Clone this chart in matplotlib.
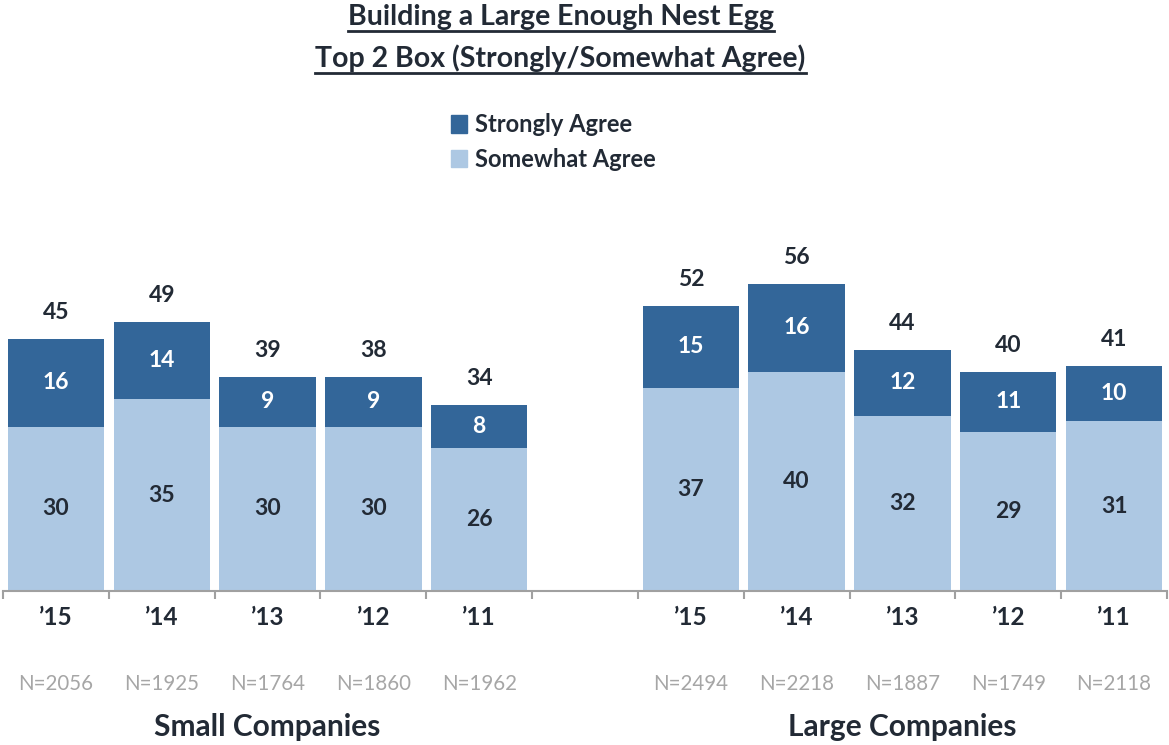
import numpy as np
import matplotlib.pyplot as plt
from matplotlib.patches import Patch
from matplotlib.lines import Line2D

plt.rcParams['font.family'] = ['Lato', 'DejaVu Sans']

# Data
years = ["\u201915", "\u201914", "\u201913", "\u201912", "\u201911"]
small_somewhat = [30, 35, 30, 30, 26]
small_strongly = [16, 14, 9, 9, 8]
small_total = [45, 49, 39, 38, 34]
small_n = ["N=2056", "N=1925", "N=1764", "N=1860", "N=1962"]
large_somewhat = [37, 40, 32, 29, 31]
large_strongly = [15, 16, 12, 11, 10]
large_total = [52, 56, 44, 40, 41]
large_n = ["N=2494", "N=2218", "N=1887", "N=1749", "N=2118"]
groups = ["Small Companies", "Large Companies"]

DARK = '#336699'
LIGHT = '#adc8e3'
TXT = '#222a35'
GRID = '#a0a0a0'

fig = plt.figure(figsize=(11.69, 7.45), dpi=100)
ax = fig.add_axes([3 / 1169, (745 - 591) / 745, 1164 / 1169, 329 / 745])

x_small = np.arange(5)
x_large = np.arange(6, 11)
xs = np.concatenate([x_small, x_large])
somewhat = np.array(small_somewhat + large_somewhat)
strongly = np.array(small_strongly + large_strongly)
totals = small_total + large_total
w = 0.91

b1 = ax.bar(xs, somewhat, width=w, color=LIGHT, edgecolor='none')
b2 = ax.bar(xs, strongly, width=w, bottom=somewhat, color=DARK, edgecolor='none')

for x, s, t, tot in zip(xs, somewhat, strongly, totals):
    ax.text(x, s / 2, str(s), ha='center', va='center', fontsize=16.5,
            fontweight='bold', color=TXT)
    ax.text(x, s + t / 2, str(t), ha='center', va='center', fontsize=16.5,
            fontweight='bold', color='white')
    ax.annotate(str(tot), (x, s + t), xytext=(0, 19), textcoords='offset points',
                ha='center', va='center', fontsize=16.5, fontweight='bold', color=TXT)

ax.set_xlim(-0.5, 10.5)
ax.set_ylim(0, 60)
ax.set_xticks(xs)
ax.set_xticklabels(years + years, fontsize=17.5, fontweight='bold', color=TXT)
ax.set_xticks(np.arange(-0.5, 11, 1), minor=True)
ax.tick_params(axis='x', which='major', length=0, pad=11)
ax.tick_params(axis='x', which='minor', length=6, width=1.5, color=GRID)
ax.set_yticks([])
for side in ['top', 'right', 'left']:
    ax.spines[side].set_visible(False)
ax.spines['bottom'].set_color(GRID)
ax.spines['bottom'].set_linewidth(1.5)

# sample sizes and group names under the axis
tr = ax.get_xaxis_transform()
for x, n in zip(xs, small_n + large_n):
    ax.text(x, -0.283, n, transform=tr, ha='center', va='center',
            fontsize=14.8, color='#a6a6a6')
ax.text(2, -0.413, groups[0], transform=tr, ha='center', va='center',
        fontsize=21.5, fontweight='bold', color=TXT)
ax.text(8, -0.413, groups[1], transform=tr, ha='center', va='center',
        fontsize=21.5, fontweight='bold', color=TXT)

# underlined two-line title
t1 = fig.text(0.4795, 1 - 17 / 745, "Building a Large Enough Nest Egg", ha='center',
              va='center', fontsize=20.5, fontweight='bold', color=TXT)
t2 = fig.text(0.4795, 1 - 58 / 745, "Top 2 Box (Strongly/Somewhat Agree)", ha='center',
              va='center', fontsize=20.5, fontweight='bold', color=TXT)
fig.canvas.draw()
r = fig.canvas.get_renderer()
for t in (t1, t2):
    bb = t.get_window_extent(r).transformed(fig.transFigure.inverted())
    yl = bb.y0 - 1 / 745
    fig.add_artist(Line2D([bb.x0, bb.x1], [yl, yl], color=TXT, lw=2))

handles = [Patch(color=DARK, label='Strongly Agree'),
           Patch(color=LIGHT, label='Somewhat Agree')]
fig.legend(handles=handles, loc='center left', bbox_to_anchor=(430 / 1169, 1 - 142 / 745),
           frameon=False, handlelength=0.65, handleheight=0.75, handletextpad=0.35,
           labelspacing=0.5, prop={'size': 17, 'weight': 'bold'}, labelcolor=TXT)

fig.savefig('out.png', dpi=100)
